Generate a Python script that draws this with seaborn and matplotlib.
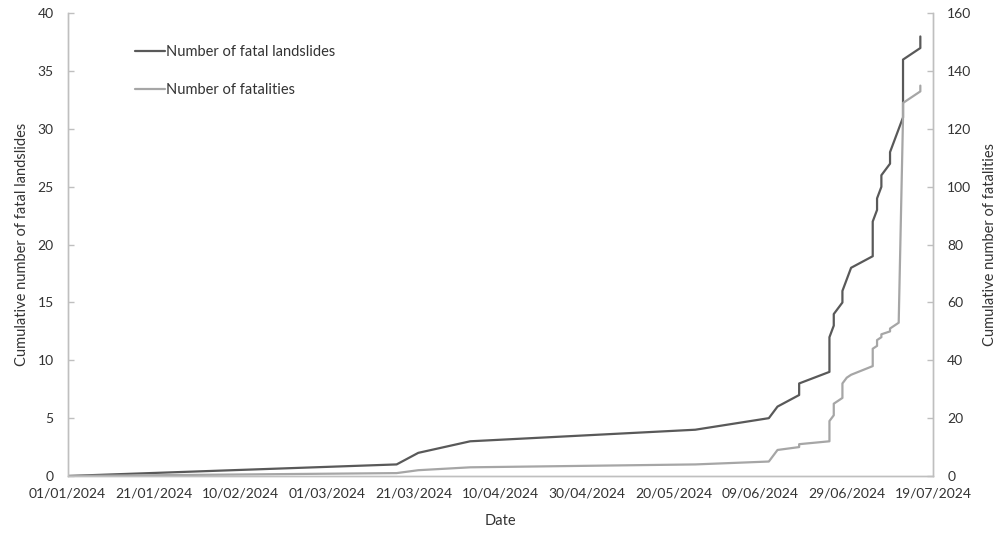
import pandas as pd
import matplotlib.pyplot as plt
import matplotlib.dates as mdates
import seaborn as sns

# one row per fatal landslide (first row = start of year)
dates = ["2024-01-01",
         "2024-03-17", "2024-03-22", "2024-04-03", "2024-05-25", "2024-06-11", "2024-06-13",
         "2024-06-18", "2024-06-18",
         "2024-06-25", "2024-06-25", "2024-06-25", "2024-06-25",
         "2024-06-26", "2024-06-26", "2024-06-28", "2024-06-28",
         "2024-06-29", "2024-06-30",
         "2024-07-05", "2024-07-05", "2024-07-05", "2024-07-05",
         "2024-07-06", "2024-07-06", "2024-07-07", "2024-07-07",
         "2024-07-09", "2024-07-09", "2024-07-10", "2024-07-11",
         "2024-07-12", "2024-07-12", "2024-07-12", "2024-07-12", "2024-07-12", "2024-07-12",
         "2024-07-16", "2024-07-16"]
landslides = list(range(0, 39))
fatalities = [0, 1, 2, 3, 4, 5, 9, 10, 11, 12, 14, 16, 19, 21, 25, 27, 32, 34, 35,
              38, 40, 42, 44, 45, 47, 48, 49, 50, 51, 52, 53,
              124, 125, 126, 127, 128, 129, 133, 135]

x_ticks = pd.date_range("2024-01-01", "2024-07-19", freq="20D")

df = pd.DataFrame({"date": pd.to_datetime(dates),
                   "landslides": landslides,
                   "fatalities": fatalities})

sns.set_style("white")
plt.rcParams["font.family"] = ["Lato", "DejaVu Sans"]

text_col = "#333333"
axis_col = "#BFBFBF"
dark = "#595959"
light = "#A6A6A6"

fig = plt.figure(figsize=(10.04, 5.39), dpi=100)
ax = fig.add_axes([0.0674, 0.1169, 0.8622, 0.8584])
ax2 = ax.twinx()

sns.lineplot(data=df, x="date", y="landslides", ax=ax, color=dark, linewidth=1.6,
             estimator=None, sort=False, label="Number of fatal landslides", legend=False)
sns.lineplot(data=df, x="date", y="fatalities", ax=ax2, color=light, linewidth=1.6,
             estimator=None, sort=False, label="Number of fatalities", legend=False)

ax.set_xlim(x_ticks[0], x_ticks[-1])
ax.set_ylim(0, 40)
ax2.set_ylim(0, 160)
ax.set_yticks(range(0, 41, 5))
ax2.set_yticks(range(0, 161, 20))
ax.set_xticks(x_ticks)
ax.xaxis.set_major_formatter(mdates.DateFormatter("%d/%m/%Y"))

for a in (ax, ax2):
    a.spines["top"].set_visible(False)
    for s in ("left", "right", "bottom"):
        a.spines[s].set_color(axis_col)
        a.spines[s].set_linewidth(1)
    a.tick_params(direction="in", length=4, width=1, color=axis_col,
                  labelcolor=text_col, labelsize=10)
ax.tick_params(axis="y", pad=10)
ax2.tick_params(axis="y", pad=10)
ax.tick_params(axis="x", pad=8)

ax.set_xlabel("Date", color=text_col, fontsize=10.5, labelpad=11)
ax.set_ylabel("Cumulative number of fatal landslides", color=text_col, fontsize=10.5, labelpad=6)
ax2.set_ylabel("Cumulative number of fatalities", color=text_col, fontsize=10.5, labelpad=8)

h1, l1 = ax.get_legend_handles_labels()
h2, l2 = ax2.get_legend_handles_labels()
fig.legend(h1 + h2, l1 + l2, loc="upper left", bbox_to_anchor=(0.129, 0.928),
           frameon=False, fontsize=10.5, handlelength=2, handletextpad=0.1,
           labelspacing=1.7, labelcolor=text_col, borderaxespad=0)

plt.savefig("out.png", dpi=100)
